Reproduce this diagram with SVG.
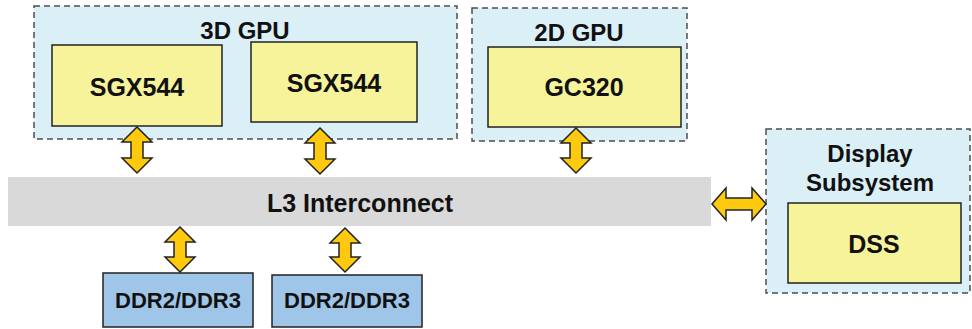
<svg xmlns="http://www.w3.org/2000/svg" width="972" height="329" viewBox="0 0 972 329">
<style>
.grp{fill:#dbeff6;stroke:#4d4d4d;stroke-width:1.5;stroke-dasharray:6 4}
.core{fill:#f7f39b;stroke:#222;stroke-width:1.5}
.ddr{fill:#9fc5e8;stroke:#222;stroke-width:1.5}
.bus{fill:#d9d9d9}
.arr{fill:#ffc90e;stroke:#222;stroke-width:1.5;stroke-linejoin:miter}
text{font-family:"Liberation Sans",Arial,sans-serif;font-weight:bold;fill:#111;text-anchor:middle}
.t{font-size:24px}
.c{font-size:25px}
.d{font-size:22px}
</style>
<g id="gpu3d">
<rect class="grp" x="34" y="6" width="423" height="133"/>
<text class="t" x="245" y="39">3D GPU</text>
</g>
<g id="sgx1">
<rect class="core" x="52" y="45" width="170" height="81"/>
<text class="c" x="137" y="96">SGX544</text>
</g>
<g id="sgx2">
<rect class="core" x="251" y="42" width="166" height="80"/>
<text class="c" x="334" y="92">SGX544</text>
</g>
<g id="gpu2d">
<rect class="grp" x="472" y="8" width="215" height="133"/>
<text class="t" x="579" y="41">2D GPU</text>
</g>
<g id="gc320">
<rect class="core" x="488" y="47" width="193" height="80"/>
<text class="c" x="584" y="96">GC320</text>
</g>
<g id="dispsub">
<rect class="grp" x="766" y="129" width="204" height="164"/>
<text class="t" x="870" y="162">Display</text>
<text class="t" x="870" y="191">Subsystem</text>
</g>
<g id="dss">
<rect class="core" x="788" y="203" width="173" height="80"/>
<text class="c" x="874" y="253">DSS</text>
</g>
<g id="l3">
<rect class="bus" x="8" y="177" width="703" height="49"/>
<text class="c" x="360" y="212">L3 Interconnect</text>
</g>
<g id="ddr1">
<rect class="ddr" x="103" y="273" width="150" height="54"/>
<text class="d" x="178" y="308">DDR2/DDR3</text>
</g>
<g id="ddr2">
<rect class="ddr" x="272" y="275" width="150" height="52"/>
<text class="d" x="347" y="308">DDR2/DDR3</text>
</g>
<g id="connectors">
<path class="arr" d="M137,127 L152,142 L143,142 L143,158 L152,158 L137,173 L122,158 L131,158 L131,142 L122,142 Z"/>
<path class="arr" d="M320,128 L335,143 L326,143 L326,159 L335,159 L320,174 L305,159 L314,159 L314,143 L305,143 Z"/>
<path class="arr" d="M576,128 L591,143 L582,143 L582,158 L591,158 L576,173 L561,158 L570,158 L570,143 L561,143 Z"/>
<path class="arr" d="M180,227 L195,242 L186,242 L186,257 L195,257 L180,272 L165,257 L174,257 L174,242 L165,242 Z"/>
<path class="arr" d="M345,228 L360,243 L351,243 L351,257 L360,257 L345,272 L330,257 L339,257 L339,243 L330,243 Z"/>
<path class="arr" d="M712,204 L726,188 L726,198 L752,198 L752,188 L766,204 L752,220 L752,210 L726,210 L726,220 Z"/>
</g>
</svg>
